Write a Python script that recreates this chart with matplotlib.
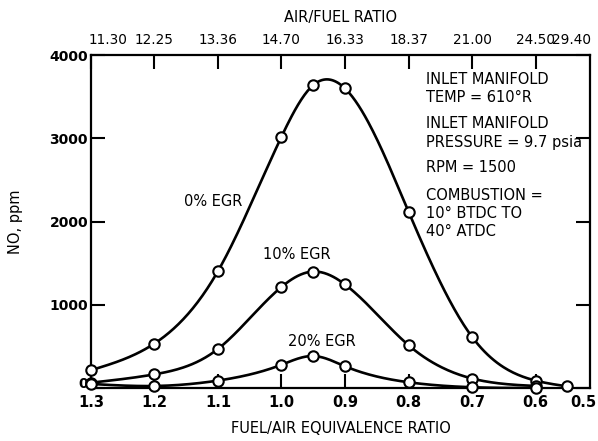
import numpy as np
import matplotlib
matplotlib.use("Agg")
import matplotlib.pyplot as plt
import matplotlib.transforms as mtransforms

plt.rcParams['font.family'] = ['DejaVu Sans']

# fuel/air equivalence ratio (x) and NO ppm (y)
phi_0 = [1.3, 1.2, 1.1, 1.0, 0.95, 0.9, 0.8, 0.7, 0.6, 0.55]
no_0 = [215, 535, 1405, 3020, 3640, 3600, 2120, 615, 90, 20]

phi_10 = [1.3, 1.2, 1.1, 1.0, 0.95, 0.9, 0.8, 0.7, 0.6]
no_10 = [65, 165, 470, 1215, 1400, 1245, 515, 115, 25]

phi_20 = [1.3, 1.2, 1.1, 1.0, 0.95, 0.9, 0.8, 0.7, 0.6]
no_20 = [50, 25, 90, 280, 385, 262, 70, 10, 0]

x_ticks = [1.3, 1.2, 1.1, 1.0, 0.9, 0.8, 0.7, 0.6]
x_ticklabels = ['1.3', '1.2', '1.1', '1.0', '0.9', '0.8', '0.7', '0.6']
top_labels = ['11.30', '12.25', '13.36', '14.70', '16.33', '18.37', '21.00', '24.50', '29.40']
y_ticks = [0, 1000, 2000, 3000, 4000]

curve_labels = ['0% EGR', '10% EGR', '20% EGR']

notes = ['INLET MANIFOLD', 'TEMP = 610\u00b0R',
         'INLET MANIFOLD', 'PRESSURE = 9.7 psia',
         'RPM = 1500',
         'COMBUSTION =', '10\u00b0 BTDC TO', '40\u00b0 ATDC']


def natural_spline(x, y, n=300):
    # smooth curve through the points (natural cubic spline)
    x = np.asarray(x, float)[::-1]
    y = np.asarray(y, float)[::-1]
    k = len(x)
    h = np.diff(x)
    A = np.zeros((k, k))
    b = np.zeros(k)
    A[0, 0] = 1
    A[-1, -1] = 1
    for i in range(1, k - 1):
        A[i, i - 1] = h[i - 1]
        A[i, i] = 2 * (h[i - 1] + h[i])
        A[i, i + 1] = h[i]
        b[i] = 3 * ((y[i + 1] - y[i]) / h[i] - (y[i] - y[i - 1]) / h[i - 1])
    c = np.linalg.solve(A, b)
    xs = np.linspace(x[0], x[-1], n)
    ys = np.empty_like(xs)
    for j, xv in enumerate(xs):
        i = min(np.searchsorted(x, xv, side='right') - 1, k - 2)
        bi = (y[i + 1] - y[i]) / h[i] - h[i] * (2 * c[i] + c[i + 1]) / 3
        di = (c[i + 1] - c[i]) / (3 * h[i])
        dx = xv - x[i]
        ys[j] = y[i] + bi * dx + c[i] * dx ** 2 + di * dx ** 3
    return xs, ys


fig = plt.figure(figsize=(5.98, 4.41), dpi=100)
ax = fig.add_axes([0.152, 0.12, 0.835, 0.755])

for px, py in [(phi_0, no_0), (phi_10, no_10), (phi_20, no_20)]:
    xs, ys = natural_spline(px, py)
    ax.plot(xs, ys, color='black', lw=1.9, zorder=2)
    ax.plot(px, py, 'o', ms=7.5, mfc='white', mec='black', mew=1.5, zorder=3, clip_on=False)

ax.set_xlim(1.3, 0.514)
ax.set_ylim(0, 4000)

for s in ax.spines.values():
    s.set_linewidth(1.6)

ax.set_xticks(x_ticks)
ax.set_xticklabels(x_ticklabels, fontsize=10.5, fontweight='bold')
ax.set_yticks(y_ticks)
ax.set_yticklabels([str(v) for v in y_ticks], fontsize=10, fontweight='bold')
ax.tick_params(axis='x', direction='in', top=True, bottom=True, length=10, width=1.5, pad=5)
ax.tick_params(axis='y', direction='in', left=True, right=True, length=10, width=1.5, pad=2)

# lift the "0" label a little, as in the original
lab0 = ax.get_yticklabels()[0]
lab0.set_transform(lab0.get_transform() + mtransforms.ScaledTranslation(0, 4 / 72, fig.dpi_scale_trans))

# tick labels sitting past the axis ends
ax.annotate('0.5', xy=(0.504, 0), xycoords=('data', 'axes fraction'), xytext=(0, -5),
            textcoords='offset points', ha='right', va='top', fontsize=10.5, fontweight='bold')

top_x = [1.273] + x_ticks[1:] + [0.543]
for xv, lab in zip(top_x, top_labels):
    ax.annotate(lab, xy=(xv, 1), xycoords=('data', 'axes fraction'), xytext=(0, 6),
                textcoords='offset points', ha='center', va='bottom', fontsize=9.8)

ax.set_title('AIR/FUEL RATIO', fontsize=10.5, pad=24)
ax.set_xlabel('FUEL/AIR EQUIVALENCE RATIO', fontsize=10.5, labelpad=8)
ax.set_ylabel('NO, ppm', fontsize=10.5, labelpad=19)

# curve labels
label_pos = [(1.108, 2240), (0.976, 1600), (0.936, 555)]
for (xv, yv), lab in zip(label_pos, curve_labels):
    ax.text(xv, yv, lab, ha='center', va='center', fontsize=10.5)

# condition notes, one line each (pixel rows from the top of the figure)
note_rows = [79, 97, 124, 142, 168, 196, 214, 232]
for row, line in zip(note_rows, notes):
    fig.text(426 / 598, 1 - row / 441, line, ha='left', va='center', fontsize=10.5)

fig.savefig('out.png', dpi=100)
